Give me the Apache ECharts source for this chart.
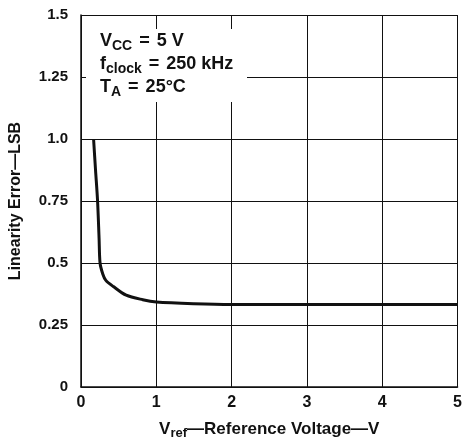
<!DOCTYPE html>
<html>
<head>
<meta charset="utf-8">
<script src="https://cdn.jsdelivr.net/npm/echarts@6/dist/echarts.min.js"></script>
<style>html,body{margin:0;padding:0;background:#fff}#c{width:465px;height:445px}</style>
</head>
<body>
<div id="c"></div>
<script>
// Reference voltage (V)
const vref = [0.167, 0.193, 0.22, 0.24, 0.253, 0.289, 0.33, 0.43, 0.6, 0.82, 1.0, 1.5, 2.0, 3.0, 4.0, 5.0];
// Linearity error (LSB)
const linErr = [1.0, 0.875, 0.75, 0.6, 0.5, 0.456, 0.43, 0.405, 0.37, 0.352, 0.343, 0.336, 0.333, 0.333, 0.333, 0.333];
const xTicks = ['0', '1', '2', '3', '4', '5'];
const yTickValues = [0, 0.25, 0.5, 0.75, 1.0, 1.25, 1.5];
const yTickLabels = ['0', '0.25', '0.5', '0.75', '1.0', '1.25', '1.5'];

const FONT = '"Liberation Sans", Arial, sans-serif';
const chart = echarts.init(document.getElementById('c'), null, {renderer: 'canvas'});
const ink = '#111';

chart.setOption({
  backgroundColor: '#fff',
  animation: false,
  grid: {left: 79, right: 5, top: 15, bottom: 50},
  xAxis: {
    type: 'value', min: 0, max: 5, interval: 1,
    name: 'V{sub|ref}—Reference Voltage—V',
    nameLocation: 'middle', nameGap: 31,
    nameTextStyle: {
      color: ink, fontFamily: FONT, fontWeight: 'bold', fontSize: 17,
      rich: {sub: {fontFamily: FONT, fontWeight: 'bold', fontSize: 13, color: ink, padding: [9, 0, 0, 0]}}
    },
    axisLine: {show: true, lineStyle: {color: ink, width: 1.5}},
    axisTick: {show: false},
    axisLabel: {color: ink, fontFamily: FONT, fontWeight: 'bold', fontSize: 16, margin: 8,
      formatter: v => xTicks[Math.round(v)]},
    splitLine: {show: true, lineStyle: {color: ink, width: 1}}
  },
  yAxis: {
    type: 'value', min: 0, max: 1.5, interval: 0.25,
    name: 'Linearity Error—LSB',
    nameLocation: 'middle', nameGap: 57, nameRotate: 90,
    nameTextStyle: {color: ink, fontFamily: FONT, fontWeight: 'bold', fontSize: 16},
    axisLine: {show: true, lineStyle: {color: ink, width: 1.5}},
    axisTick: {show: false},
    axisLabel: {color: ink, fontFamily: FONT, fontWeight: 'bold', fontSize: 15, margin: 13,
      formatter: v => {
        const i = yTickValues.findIndex(t => Math.abs(t - v) < 1e-6);
        return i >= 0 ? yTickLabels[i] : '';
      }},
    splitLine: {show: true, lineStyle: {color: ink, width: 1}}
  },
  graphic: [
    {type: 'rect', left: 86, top: 29, z: 100, shape: {width: 161, height: 73}, style: {fill: '#fff'}},
    {type: 'text', left: 100, top: 30, z: 101,
      style: {
        text: 'V{sub|CC}{eq|=}5 V\nf{sub|clock}{eq|=}250 kHz\nT{sub|A}{eq|=}25°C',
        font: 'bold 18px ' + FONT, fill: ink, lineHeight: 23,
        rich: {
          sub: {font: 'bold 14px ' + FONT, fill: ink, padding: [9, 0, 0, 0]},
          eq: {font: 'bold 18px ' + FONT, fill: ink, padding: [0, 7, 0, 7]}
        }
      }}
  ],
  series: [{
    type: 'line',
    data: vref.map((x, i) => [x, linErr[i]]),
    showSymbol: false,
    smooth: 0.3,
    lineStyle: {color: ink, width: 3},
    z: 5
  }]
});
</script>
</body>
</html>
